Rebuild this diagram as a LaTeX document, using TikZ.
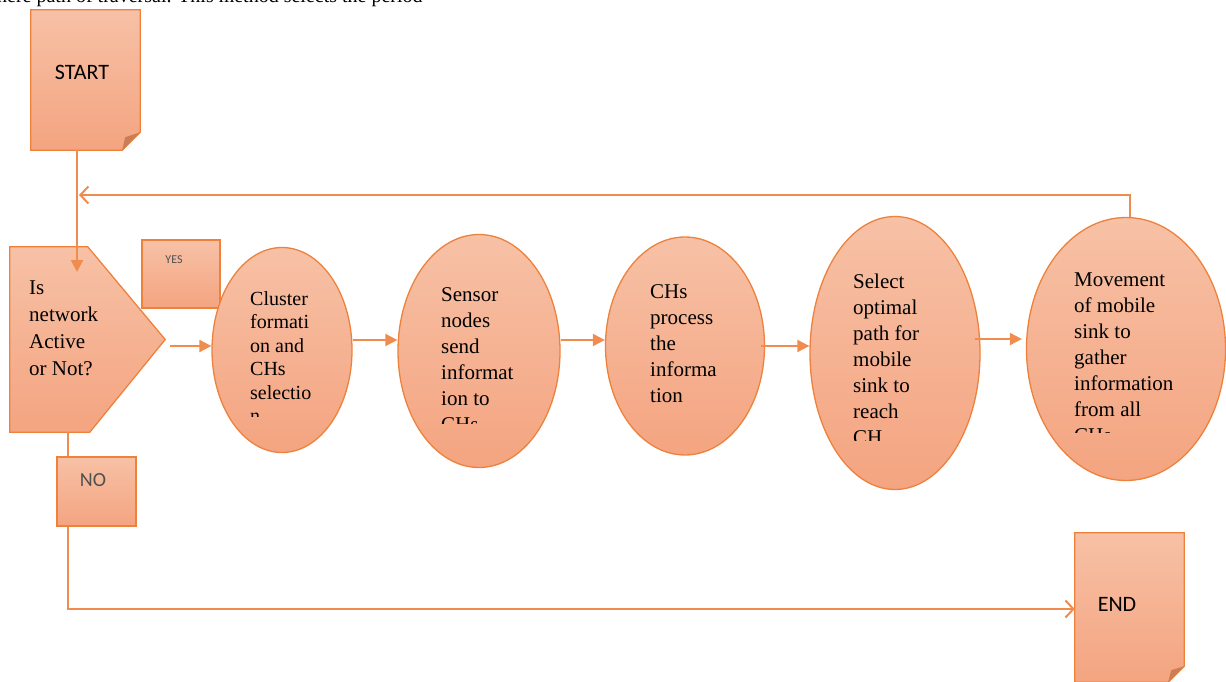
\documentclass[tikz,border=0pt]{standalone}
\usepackage{fontspec}
\setmainfont{Liberation Serif}
\newfontfamily\serfont{Liberation Serif}
\newfontfamily\calfont{Carlito}
\usetikzlibrary{arrows.meta,shapes.geometric,calc}
\definecolor{otop}{RGB}{247,193,166}
\definecolor{obot}{RGB}{244,164,128}
\definecolor{oline}{RGB}{239,140,78}
\definecolor{oedge}{RGB}{238,130,60}
\definecolor{ofold}{RGB}{205,125,85}
\definecolor{lblgrey}{RGB}{80,80,80}
\begin{document}
\begin{tikzpicture}[x=1pt,y=-1pt,
  shapefill/.style={top color=otop,bottom color=obot,draw=oedge,line width=1.3pt},
  boxnode/.style={rectangle,inner sep=0pt,shapefill},
  ghost/.style={rectangle,inner sep=0pt,draw=none},
  ell/.style={ellipse,inner sep=0pt,shapefill},
  conn/.style={draw=oline,line width=2pt},
  arr/.style={conn,-{Triangle[length=12pt,width=12pt]}},
  oarr/.style={conn,-{Straight Barb[length=8pt,width=17pt]}},
  txt/.style={anchor=north west,inner sep=0pt,align=left,font=\serfont\fontsize{21}{26}\selectfont},
  sans/.style={inner sep=0pt,font=\calfont\fontsize{22}{24}\selectfont},
]
\useasboundingbox (0,0) rectangle (1226,682);

% cut-off text line at the top
\begin{scope}
\clip (0,0) rectangle (1226,682);
\node[anchor=base west,inner sep=0pt,font=\serfont\fontsize{20}{24}\selectfont] (toptext) at (-3,3) {nere path of traversal. This method selects the period};
\end{scope}

% START document shape
\node[ghost,minimum width=109pt,minimum height=140pt] (start) at (85.5,80) {};
\path[shapefill] (start.north west) -- (start.north east) -- ([yshift=18pt]start.south east)
  -- ([xshift=-18pt]start.south east) -- (start.south west) -- cycle;
\fill[ofold] ([xshift=-18pt]start.south east) -- ([yshift=18pt]start.south east) -- ([xshift=-15pt,yshift=13pt]start.south east) -- cycle;
\node[sans] (startt) at (82,72) {START};

% decision shape
\node[ghost,minimum width=155pt,minimum height=185pt] (dec) at (87.5,339.5) {};
\path[shapefill] (dec.north west) -- ([xshift=78pt]dec.north west) -- (dec.east)
  -- ([xshift=80pt]dec.south west) -- (dec.south west) -- cycle;
\node[txt,font=\serfont\fontsize{21}{27}\selectfont] (dect) at (29,281) {Is\\network\\Active\\or Not?};

% YES box
\node[boxnode,minimum width=78pt,minimum height=68pt] (yes) at (181,274) {};
\node[sans,font=\calfont\fontsize{12}{14}\selectfont,text=lblgrey] (yest) at (174,260) {YES};

% ellipses
\node[ell,minimum width=140pt,minimum height=205pt] (clu) at (282,350) {};
\node[ell,minimum width=162pt,minimum height=233pt] (sen) at (479,351) {};
\node[ell,minimum width=159pt,minimum height=218pt] (chs) at (685,346) {};
\node[ell,minimum width=170pt,minimum height=273pt] (sel) at (895,353) {};
\node[ell,minimum width=199pt,minimum height=263pt] (mov) at (1126,349) {};

\begin{scope}
\clip (200,200) rectangle (360,416);
\node[txt,font=\serfont\fontsize{20}{23.5}\selectfont] (clut) at (250,291) {Cluster\\formati\\on and\\CHs\\selectio\\n};
\end{scope}
\begin{scope}
\clip (400,200) rectangle (560,423);
\node[txt] (sent) at (441,287) {Sensor\\nodes\\send\\informat\\ion to\\CHs};
\end{scope}
\node[txt] (chst) at (650,284) {CHs\\process\\the\\informa\\tion};
\begin{scope}
\clip (820,200) rectangle (980,440);
\node[txt] (selt) at (853,274) {Select\\optimal\\path for\\mobile\\sink to\\reach\\CH};
\end{scope}
\begin{scope}
\clip (1030,200) rectangle (1226,432);
\node[txt] (movt) at (1074,273) {Movement\\of mobile\\sink to\\gather\\information\\from all\\CHs};
\end{scope}

% END document shape
\node[ghost,minimum width=109pt,minimum height=149pt] (end) at (1129.5,607.5) {};
\path[shapefill] (end.north west) -- (end.north east) -- ([yshift=16pt]end.south east)
  -- ([xshift=-16pt]end.south east) -- (end.south west) -- cycle;
\fill[ofold] ([xshift=-16pt]end.south east) -- ([yshift=16pt]end.south east) -- ([xshift=-13pt,yshift=12pt]end.south east) -- cycle;
\node[sans] (endt) at (1117,604) {END};

% NO path and box
\coordinate (noline) at (68,609);
\draw[oarr] (dec.south -| noline) |- (end.west |- noline);
\node[boxnode,minimum width=79pt,minimum height=69pt] (no) at (96.5,491.5) {};
\node[sans,font=\calfont\fontsize{20}{22}\selectfont,text=lblgrey] (not) at (93,480) {NO};

% connectors
\coordinate (dectop) at (77,272);
\draw[arr] (start.south -| dectop) -- (dectop);
\coordinate (retend) at (79,195);
\draw[oarr] ([xshift=4pt]mov.north) |- (retend);
\coordinate (decout) at (170,346);
\draw[arr] (decout) -- (decout -| clu.west);
\coordinate (r1) at (0,340);
\coordinate (r2) at (0,346);
\coordinate (r3) at (0,339);
\draw[arr] (clu.east |- r1) -- (sen.west |- r1);
\draw[arr] (sen.east |- r1) -- (chs.west |- r1);
\draw[arr] ([xshift=-4pt]chs.east |- r2) -- (sel.west |- r2);
\draw[arr] ([xshift=-6pt]sel.east |- r3) -- ([xshift=-4pt]mov.west |- r3);
\end{tikzpicture}
\end{document}
